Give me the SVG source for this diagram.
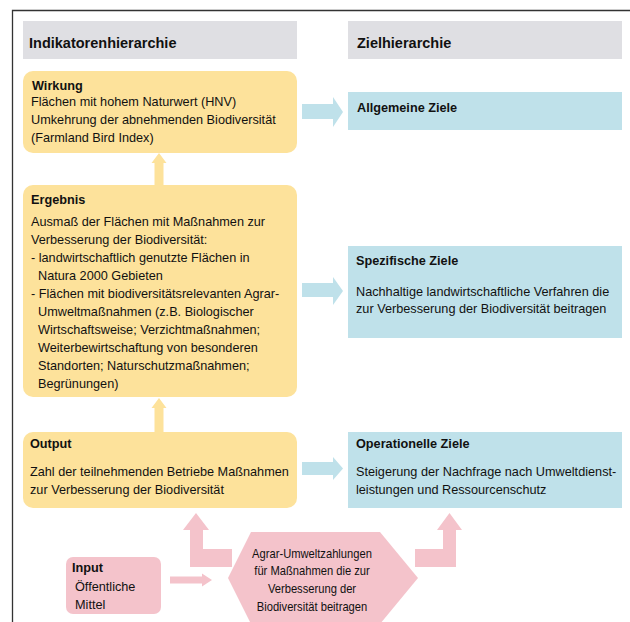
<svg xmlns="http://www.w3.org/2000/svg" width="630" height="622" viewBox="0 0 630 622">
<style>
text{font-family:"Liberation Sans",Arial,sans-serif;font-size:12.7px;fill:#111}
.b{font-weight:bold}
.h{font-weight:bold;font-size:14.5px}
.hdr{fill:#DFDFE3}
.y{fill:#FDE29B}
.bl{fill:#BFE1EA}
.pk{fill:#F4C3CB}
.c{text-anchor:middle}
</style>
<rect width="630" height="622" fill="#fff"/>
<path d="M12.5 622V10.5H630" fill="none" stroke="#333" stroke-width="1.3"/>
<g id="hdr-left"><rect class="hdr" x="23" y="21" width="274" height="38"/><text class="h" x="29" y="48">Indikatorenhierarchie</text></g>
<g id="hdr-right"><rect class="hdr" x="348" y="21" width="274" height="38"/><text class="h" x="357" y="48">Zielhierarchie</text></g>
<g id="connectors">
<path class="y" d="M159 153L166.5 163H163.5V185H154.5V163H151.5Z"/>
<path class="y" d="M159 398L166.5 408H163.5V432H154.5V408H151.5Z"/>
<path class="bl" d="M302 104H333V97L343 112L333 127V119H302Z"/>
<path class="bl" d="M302 283H333V277L343 291L333 305V297H302Z"/>
<path class="bl" d="M302 462H333V457L343 468.5L333 480V475H302Z"/>
<path class="pk" d="M170 576.5H202V573.5L212 580L202 586.5V583.5H170Z"/>
<path class="pk" d="M196 513L209 530H203V549H232V567H190V530H183Z"/>
<path class="pk" d="M449.5 513L462 530H456V567H415V549H443V530H437Z"/>
</g>
<g id="wirkung"><rect class="y" x="23" y="71" width="274" height="82" rx="10"/>
<text class="b" x="32" y="89.5">Wirkung</text>
<text x="31" y="105.5">Flächen mit hohem Naturwert (HNV)</text>
<text x="31" y="124">Umkehrung der abnehmenden Biodiversität</text>
<text x="31" y="142">(Farmland Bird Index)</text></g>
<g id="ergebnis"><rect class="y" x="23" y="185" width="274" height="212" rx="10"/>
<text class="b" x="31" y="204">Ergebnis</text>
<text x="31" y="225.5">Ausmaß der Flächen mit Maßnahmen zur</text>
<text x="31" y="243.6">Verbesserung der Biodiversität:</text>
<text x="31" y="261.7">- landwirtschaftlich genutzte Flächen in</text>
<text x="38" y="279.8">Natura 2000 Gebieten</text>
<text x="31" y="297.9">- Flächen mit biodiversitätsrelevanten Agrar-</text>
<text x="38" y="316">Umweltmaßnahmen (z.B. Biologischer</text>
<text x="38" y="334.1">Wirtschaftsweise; Verzichtmaßnahmen;</text>
<text x="38" y="352.2">Weiterbewirtschaftung von besonderen</text>
<text x="38" y="370.3">Standorten; Naturschutzmaßnahmen;</text>
<text x="38" y="388.4">Begrünungen)</text></g>
<g id="output"><rect class="y" x="23" y="432" width="274" height="76" rx="10"/>
<text class="b" x="30" y="447.5">Output</text>
<text x="30" y="476">Zahl der teilnehmenden Betriebe Maßnahmen</text>
<text x="30" y="494">zur Verbesserung der Biodiversität</text></g>
<g id="input"><rect class="pk" x="66" y="557" width="95" height="57" rx="7"/>
<text class="b" x="72" y="572">Input</text>
<text x="75" y="591">Öffentliche</text>
<text x="75" y="609">Mittel</text></g>
<g id="zahlungen"><path class="pk" d="M251 532H380L418 578L380 624H251L228 578Z"/>
<g transform="translate(312 0) scale(0.88 1)">
<text class="c" x="0" y="558">Agrar-Umweltzahlungen</text>
<text class="c" x="0" y="575.5">für Maßnahmen die zur</text>
<text class="c" x="0" y="593.5">Verbesserung der</text>
<text class="c" x="0" y="611">Biodiversität beitragen</text></g></g>
<g id="allgemein"><rect class="bl" x="348" y="92" width="274" height="38"/>
<text class="b" x="357" y="111.5">Allgemeine Ziele</text></g>
<g id="spezifisch"><rect class="bl" x="348" y="246" width="274" height="92"/>
<text class="b" x="356" y="265">Spezifische Ziele</text>
<text x="356" y="295.5">Nachhaltige landwirtschaftliche Verfahren die</text>
<text x="356" y="313">zur Verbesserung der Biodiversität beitragen</text></g>
<g id="operationell"><rect class="bl" x="348" y="432" width="274" height="76"/>
<text class="b" x="356" y="448">Operationelle Ziele</text>
<text x="356" y="476">Steigerung der Nachfrage nach Umweltdienst-</text>
<text x="356" y="494">leistungen und Ressourcenschutz</text></g>
</svg>
